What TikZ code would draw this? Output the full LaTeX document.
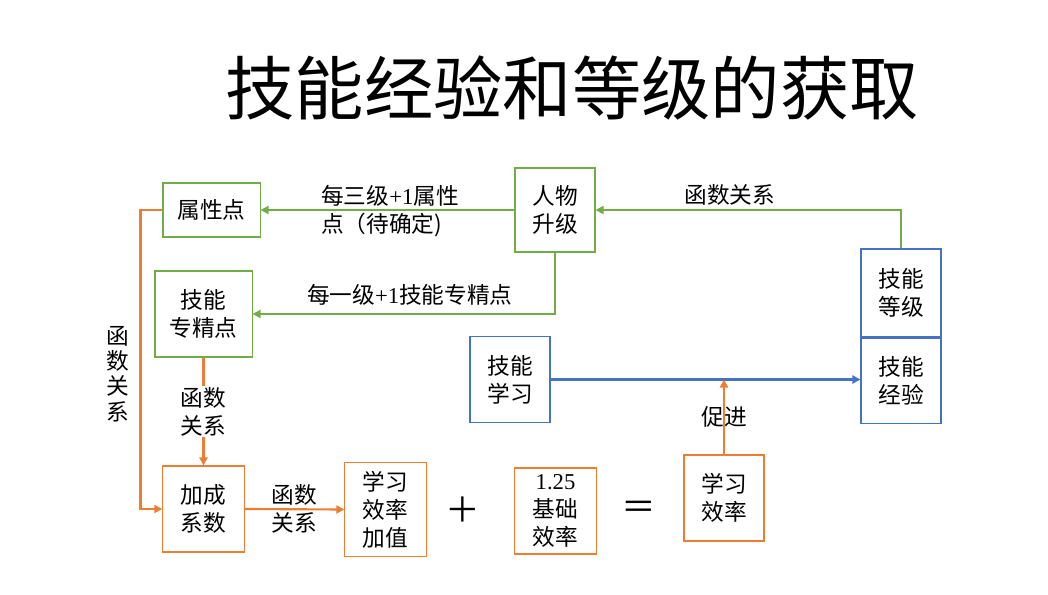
\documentclass[tikz,border=0pt]{standalone}
\usepackage{fontspec}
\setmainfont{Noto Sans CJK SC}
\newfontfamily\latin{Liberation Serif}
\usepackage{tikz}
\usetikzlibrary{positioning, arrows.meta}

\begin{document}
\begin{tikzpicture}[
    x=0.75pt, y=-0.75pt,
    box/.style={align=center, draw, line width=0.8pt, inner sep=0pt, font=\fontsize{17pt}{21pt}\selectfont},
    greenbox/.style={box, draw=linkgreen},
    bluebox/.style={box, draw=linkblue},
    orangebox/.style={box, draw=linkorange},
    label/.style={align=center, font=\fontsize{17pt}{21pt}\selectfont},
    greenarrow/.style={draw=linkgreen, line width=1.6pt, -{Triangle[length=6pt, width=6pt, fill=linkgreen]}},
    bluearrow/.style={draw=linkblue, line width=1.6pt, -{Triangle[length=6pt, width=6pt, fill=linkblue]}},
    orangearrow/.style={draw=linkorange, line width=1.6pt, -{Triangle[length=6pt, width=6pt, fill=linkorange]}}
]
    \definecolor{linkgreen}{RGB}{112,173,71}
    \definecolor{linkblue}{RGB}{68,114,196}
    \definecolor{linkorange}{RGB}{237,125,49}
    \useasboundingbox (0,0) rectangle (1048,595);

    % TITLE
    \node[font=\fontsize{52pt}{56pt}\selectfont] (title) at (572,88) {技能经验和等级的获取};

    % NODES
    \node[greenbox, minimum width=72.8pt, minimum height=40.5pt] (attr) at (211.5,210) {属性点};
    \node[greenbox, minimum width=60pt, minimum height=63pt] (levelup) at (555,210) {人物\\升级};
    \node[greenbox, minimum width=72.8pt, minimum height=64.5pt] (spec) at (203.5,314) {技能\\专精点};

    \node[bluebox, minimum width=60pt, minimum height=66pt] (skilllv) at (901,293) {技能\\等级};
    \node[bluebox, minimum width=60pt, minimum height=64pt, below=0pt of skilllv] (skillexp) {技能\\经验};
    \node[bluebox, minimum width=60pt, minimum height=64.5pt] (learn) at (510,379.5) {技能\\学习};

    \node[orangebox, minimum width=61pt, minimum height=64.5pt] (bonus) at (203.5,509) {加成\\系数};
    \node[orangebox, minimum width=61pt, minimum height=71pt] (ratebonus) at (385.5,509.5) {学习\\效率\\加值};
    \node[label, font=\fontsize{26pt}{28pt}\selectfont] (plus) at (463,510) {＋};
    \node[orangebox, minimum width=61pt, minimum height=64.5pt] (baserate) at (555.5,511) {{\latin 1.25}\\基础\\效率};
    \node[label, font=\fontsize{26pt}{28pt}\selectfont] (equals) at (639,510) {＝};
    \node[orangebox, minimum width=60pt, minimum height=64.5pt] (rate) at (724,498) {学习\\效率};

    % EDGES
    \draw[greenarrow] (levelup) -- (attr);
    \node[label, align=left] at (390,211) {每三级{\latin +1}属性\\点（待确定)};
    \draw[greenarrow] (levelup.south) |- node[label, pos=0.74, above=2pt] {每一级{\latin +1}技能专精点} (spec.east);
    \draw[greenarrow] (skilllv.north) |- node[label, pos=0.78, above=-1pt] {函数关系} (levelup.east);

    \draw[bluearrow] (learn.east) -- (learn.east -| skillexp.west);
    \draw[orangearrow] (rate.north) -- node[label] {促进} (rate.north |- learn.east);

    \draw[orangearrow] (attr.west) -- ++(-22,0) |- (bonus.west);
    \node[label, font=\fontsize{17pt}{19pt}\selectfont] at (118,374) {函\\数\\关\\系};
    \draw[orangearrow] (spec.south) -- node[label, fill=white, inner sep=1pt] {函数\\关系} (bonus.north);
    \draw[orangearrow] (bonus.east) -- node[label] {函数\\关系} (ratebonus.west);

\end{tikzpicture}
\end{document}
